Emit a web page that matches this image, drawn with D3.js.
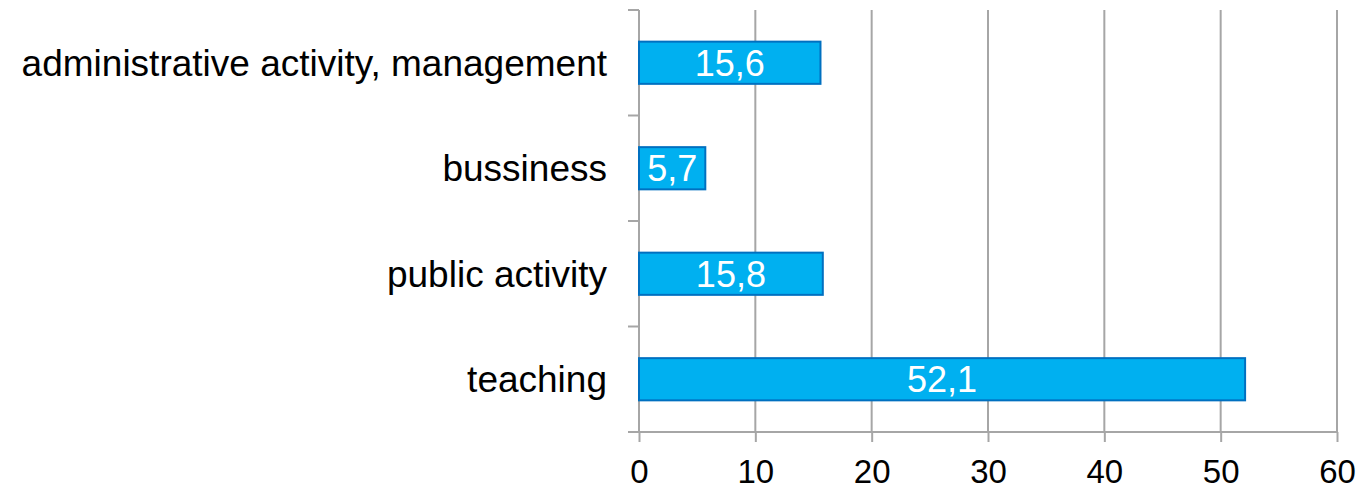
<!DOCTYPE html>
<html>
<head>
<meta charset="utf-8">
<script src="https://cdn.jsdelivr.net/npm/d3@7"></script>
<style>
  body { margin: 0; background: #fff; }
  svg { display: block; font-family: "Liberation Sans", Arial, sans-serif; }
  .grid line { stroke: #a6a6a6; stroke-width: 2; }
  .axis path, .axis line { stroke: #a6a6a6; stroke-width: 2; }
  .axis .tick text { fill: #000; font-size: 33px; }
  .axis .cat { fill: #000; font-size: 37px; }
  .bar { fill: #00b0f0; stroke: #0070c0; stroke-width: 2; }
  .label { fill: #fff; font-size: 36px; }
</style>
</head>
<body>
<div id="chart"></div>
<script>
  // categories top to bottom
  const categories = ["administrative activity, management", "bussiness", "public activity", "teaching"];
  const values = [15.6, 5.7, 15.8, 52.1];
  const xTicks = [0, 10, 20, 30, 40, 50, 60];

  const W = 1361, H = 492;
  const margin = {top: 10, right: 24, bottom: 60, left: 639};
  const width = W - margin.left - margin.right;
  const height = H - margin.top - margin.bottom;

  const svg = d3.select("#chart").append("svg")
    .attr("width", W)
    .attr("height", H);

  const g = svg.append("g")
    .attr("transform", "translate(" + margin.left + "," + margin.top + ")");

  const x = d3.scaleLinear().domain([0, 60]).range([0, width]);
  const y = d3.scaleBand().domain(categories).range([0, height]).paddingInner(0.6).paddingOuter(0.3);
  const yOuter = d3.scaleBand().domain(categories).range([0, height]);

  // vertical gridlines
  g.append("g")
    .attr("class", "grid")
    .selectAll("line")
    .data(xTicks.slice(1))
    .join("line")
    .attr("x1", d => x(d)).attr("x2", d => x(d))
    .attr("y1", 0).attr("y2", height);

  // bottom axis
  const xAxis = g.append("g")
    .attr("class", "axis")
    .attr("transform", "translate(0," + height + ")")
    .call(d3.axisBottom(x).tickValues(xTicks).tickSize(10).tickSizeOuter(0).tickPadding(18).tickFormat(d3.format("d")));
  xAxis.select(".domain").attr("d", "M-11,0H" + width);

  // left axis with ticks at band boundaries
  const yAxis = g.append("g").attr("class", "axis");
  yAxis.append("line")
    .attr("x1", 0).attr("x2", 0).attr("y1", 0).attr("y2", height);
  yAxis.selectAll(".btick")
    .data(categories.map(c => yOuter(c)))
    .join("line")
    .attr("class", "btick")
    .attr("x1", -11).attr("x2", 0)
    .attr("y1", d => d).attr("y2", d => d);

  yAxis.selectAll(".cat")
    .data(categories)
    .join("text")
    .attr("class", "cat")
    .attr("x", -32)
    .attr("y", d => yOuter(d) + yOuter.bandwidth() / 2)
    .attr("dy", "0.35em")
    .attr("text-anchor", "end")
    .text(d => d);

  // bars
  g.selectAll(".bar")
    .data(values)
    .join("rect")
    .attr("class", "bar")
    .attr("x", x(0))
    .attr("y", (d, i) => y(categories[i]))
    .attr("width", d => x(d) - x(0))
    .attr("height", y.bandwidth());

  g.selectAll(".label")
    .data(values)
    .join("text")
    .attr("class", "label")
    .attr("x", d => (x(0) + x(d)) / 2)
    .attr("y", (d, i) => y(categories[i]) + y.bandwidth() / 2)
    .attr("dy", "0.36em")
    .attr("text-anchor", "middle")
    .text(d => d.toFixed(1).replace(".", ","));
</script>
</body>
</html>
